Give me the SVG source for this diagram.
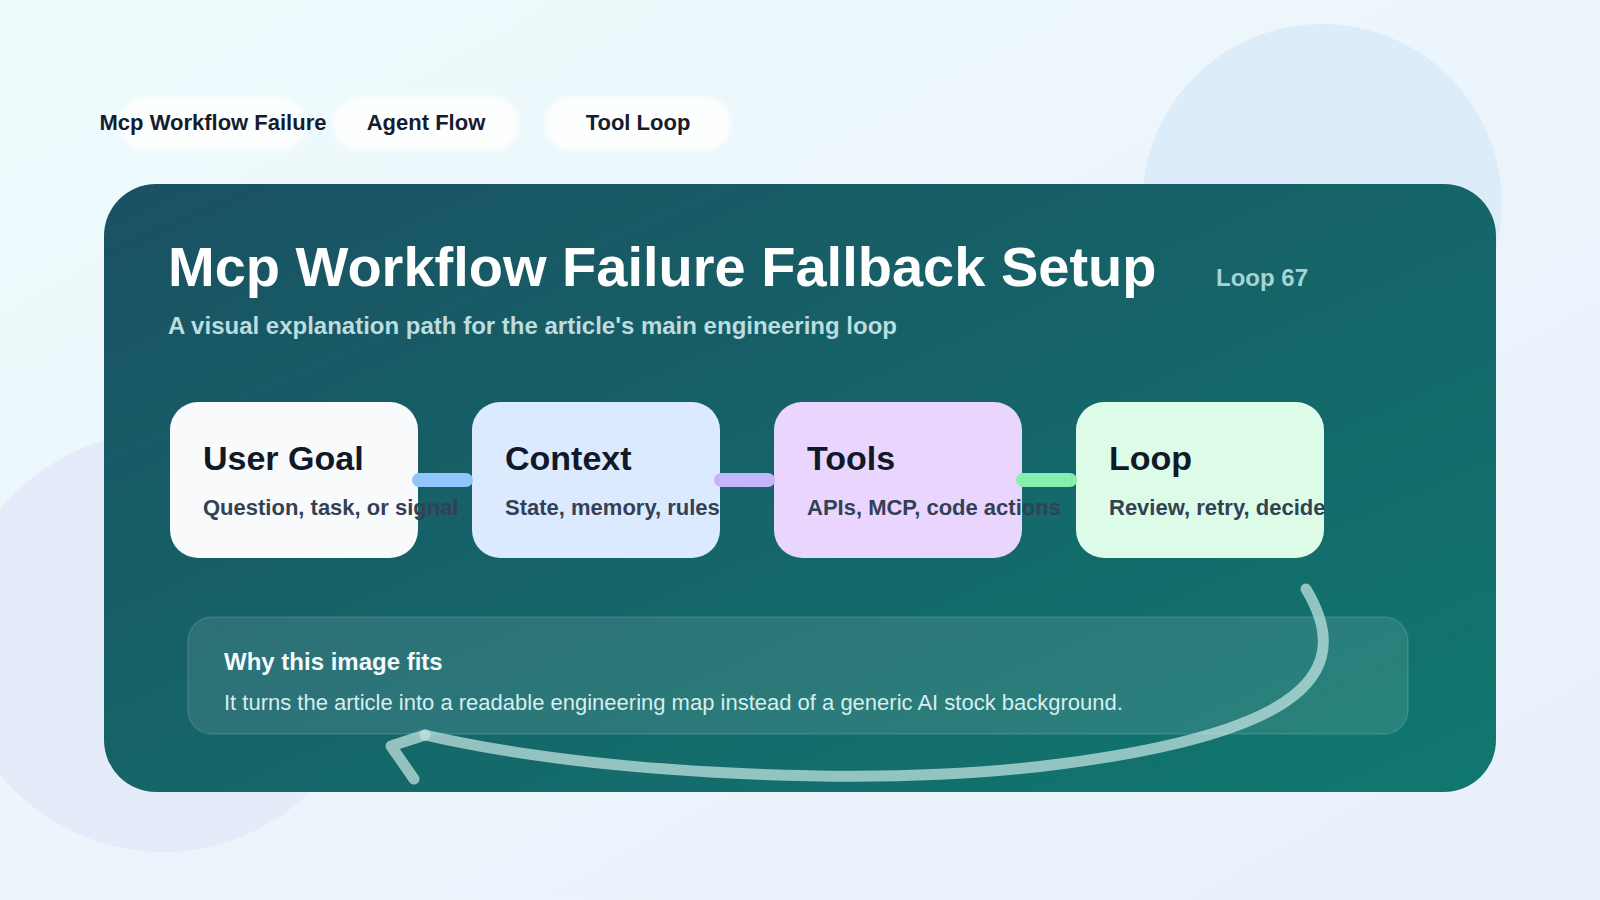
<svg xmlns="http://www.w3.org/2000/svg" width="1600" height="900" viewBox="0 0 1600 900">
  <defs>
    <linearGradient id="bg" x1="0" y1="0" x2="1" y2="1">
      <stop offset="0" stop-color="#eefbfc"/>
      <stop offset="1" stop-color="#e9effb"/>
    </linearGradient>
    <linearGradient id="panel" x1="0" y1="0" x2="1" y2="1">
      <stop offset="0" stop-color="#1a5162"/>
      <stop offset="1" stop-color="#10786f"/>
    </linearGradient>
    <filter id="soft" x="-20%" y="-40%" width="140%" height="180%">
      <feGaussianBlur stdDeviation="2.5"/>
    </filter>
    <style>
      .pill { fill: #ffffff; opacity: 0.9; }
      .pilltxt { font-family: "Liberation Sans", Arial, sans-serif; font-weight: 700; font-size: 22px; fill: #161c2d; text-anchor: middle; }
      .node { stroke: none; }
      .ntitle { font-family: "Liberation Sans", Arial, sans-serif; font-weight: 700; font-size: 34px; fill: #111827; }
      .nsub { font-family: "Liberation Sans", Arial, sans-serif; font-weight: 700; font-size: 22px; fill: #334155; }
      .conn { stroke-width: 14; stroke-linecap: round; fill: none; }
    </style>
  </defs>

  <rect x="0" y="0" width="1600" height="900" fill="url(#bg)"/>
  <circle cx="1322" cy="204" r="180" fill="#dcecf8"/>
  <circle cx="163" cy="642" r="210" fill="#e5ecf9"/>

  <g id="tags">
    <rect class="pill" x="120" y="97" width="186" height="53" rx="26" filter="url(#soft)"/>
    <text class="pilltxt" x="213" y="130">Mcp Workflow Failure</text>
    <rect class="pill" x="333" y="97" width="186" height="53" rx="26" filter="url(#soft)"/>
    <text class="pilltxt" x="426" y="130">Agent Flow</text>
    <rect class="pill" x="545" y="97" width="186" height="53" rx="26" filter="url(#soft)"/>
    <text class="pilltxt" x="638" y="130">Tool Loop</text>
  </g>

  <g id="panel-main">
    <rect x="104" y="184" width="1392" height="608" rx="52" fill="url(#panel)"/>
    <text x="168" y="286" font-family="Liberation Sans, Arial, sans-serif" font-weight="700" font-size="56" fill="#ffffff">Mcp Workflow Failure Fallback Setup</text>
    <text x="1216" y="286" font-family="Liberation Sans, Arial, sans-serif" font-weight="700" font-size="24" fill="#a6d3d8">Loop 67</text>
    <text x="168" y="334" font-family="Liberation Sans, Arial, sans-serif" font-weight="700" font-size="24" fill="#bcdcdf">A visual explanation path for the article's main engineering loop</text>
  </g>

  <g id="node-user-goal">
    <rect class="node" x="170" y="402" width="248" height="156" rx="28" fill="#f8fafc"/>
    <text class="ntitle" x="203" y="470">User Goal</text>
    <text class="nsub" x="203" y="515">Question, task, or signal</text>
  </g>
  <g id="node-context">
    <rect class="node" x="472" y="402" width="248" height="156" rx="28" fill="#dbeafe"/>
    <text class="ntitle" x="505" y="470">Context</text>
    <text class="nsub" x="505" y="515">State, memory, rules</text>
  </g>
  <g id="node-tools">
    <rect class="node" x="774" y="402" width="248" height="156" rx="28" fill="#e9d5fe"/>
    <text class="ntitle" x="807" y="470">Tools</text>
    <text class="nsub" x="807" y="515">APIs, MCP, code actions</text>
  </g>
  <g id="node-loop">
    <rect class="node" x="1076" y="402" width="248" height="156" rx="28" fill="#dcfce7"/>
    <text class="ntitle" x="1109" y="470">Loop</text>
    <text class="nsub" x="1109" y="515">Review, retry, decide</text>
  </g>

  <g id="info-box">
    <rect x="188" y="617" width="1220" height="117" rx="24" fill="#ffffff" fill-opacity="0.1" stroke="#ffffff" stroke-opacity="0.12" stroke-width="1.5"/>
    <text x="224" y="670" font-family="Liberation Sans, Arial, sans-serif" font-weight="700" font-size="24" fill="#f4fbfb">Why this image fits</text>
    <text x="224" y="710" font-family="Liberation Sans, Arial, sans-serif" font-size="22" fill="#d6eeee">It turns the article into a readable engineering map instead of a generic AI stock background.</text>
  </g>

  <g id="connectors">
    <line class="conn" x1="419" y1="480" x2="466" y2="480" stroke="#93c5fd"/>
    <line class="conn" x1="721" y1="480" x2="768" y2="480" stroke="#c4b5fd"/>
    <line class="conn" x1="1023" y1="480" x2="1070" y2="480" stroke="#86efac"/>
    <g stroke="#bfe3e0" stroke-opacity="0.74" stroke-width="11" stroke-linecap="round" stroke-linejoin="round" fill="none">
      <path d="M1306 589 C1356 672 1305 732 1060 764 C880 788 600 775 425 735"/>
      <path d="M425 735 L391 746 L414 779"/>
    </g>
  </g>
</svg>
